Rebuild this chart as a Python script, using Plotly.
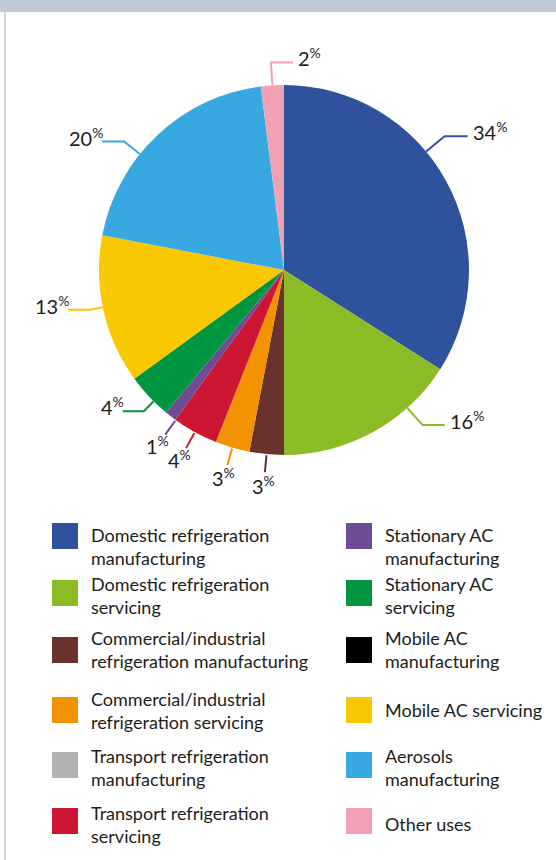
import math
import textwrap
import plotly.graph_objects as go

# ---- data -------------------------------------------------------------
CATEGORIES = [
    "Domestic refrigeration manufacturing",
    "Domestic refrigeration servicing",
    "Commercial/industrial refrigeration manufacturing",
    "Commercial/industrial refrigeration servicing",
    "Transport refrigeration manufacturing",
    "Transport refrigeration servicing",
    "Stationary AC manufacturing",
    "Stationary AC servicing",
    "Mobile AC manufacturing",
    "Mobile AC servicing",
    "Aerosols manufacturing",
    "Other uses",
]
SHARES = [34, 16, 3, 3, 0, 4, 1, 4, 0, 13, 20, 2]
COLORS = [
    "#2F529C", "#8BBC25", "#6A322D", "#F29200", "#B2B2B2", "#CD1633",
    "#6E4B95", "#00963F", "#000000", "#F9C800", "#37A8E0", "#F1A1B6",
]

# ---- page geometry ----------------------------------------------------
W, H = 556, 860
CX, CY, R = 284, 270, 185          # pie centre and radius, px
FONT = "Lato"
INK = "#1d1d1b"


def px(x):
    return x / W


def py(y):
    return 1 - y / H


def polar(angle_deg, r):
    a = math.radians(angle_deg)
    return CX + r * math.sin(a), CY - r * math.cos(a)


# label leader styling per slice: angle shift from slice middle, leg, run, side
LEADERS = {
    0: dict(kind="elbow", shift=-11, leg=24, run=23, side=1),
    1: dict(kind="elbow", shift=-13, leg=23, run=22, side=1),
    2: dict(kind="radial"),
    3: dict(kind="radial"),
    5: dict(kind="radial"),
    6: dict(kind="radial", shift=-2),
    7: dict(kind="elbow", shift=-2, leg=14, run=21, side=-1),
    9: dict(kind="elbow", shift=1, leg=13, run=22, side=-1),
    10: dict(kind="elbow", shift=-8, leg=20, run=22, side=-1),
    11: dict(kind="elbow", shift=0, leg=23, run=22, side=1),
}
LABEL_GAP = {1: 3, -1: -3}        # text offset from the end of an elbow run
PCT_FONT = dict(family=FONT, size=20, color=INK)

fig = go.Figure()
fig.add_trace(go.Pie(
    labels=CATEGORIES,
    values=SHARES,
    marker=dict(colors=COLORS, line=dict(width=0)),
    sort=False,
    direction="clockwise",
    rotation=0,
    textinfo="none",
    hoverinfo="label+percent",
    showlegend=False,
    domain=dict(x=[px(CX - R), px(CX + R)], y=[py(CY + R), py(CY - R)]),
))

shapes = []
annotations = []

# top banner strip and left frame rule
shapes.append(dict(type="rect", xref="paper", yref="paper", x0=0, x1=1,
                   y0=py(12), y1=1, fillcolor="#C0CBD1", line=dict(width=0),
                   layer="below"))
shapes.append(dict(type="line", xref="paper", yref="paper", x0=px(5), x1=px(5),
                   y0=0, y1=py(12), line=dict(color="#CCD6DD", width=2)))

# percentage labels with leader lines
total = sum(SHARES)
cum = 0
for i, v in enumerate(SHARES):
    start = cum / total * 360
    cum += v
    if v == 0 or i not in LEADERS:
        continue
    mid = start + v / total * 180
    cfg = LEADERS[i]
    text = f"{v}<sup>%</sup>"
    if cfg["kind"] == "radial":
        ang = mid + cfg.get("shift", 0)
        x0, y0 = polar(ang, R + 1)
        x1, y1 = polar(ang, R + 18)
        shapes.append(dict(type="line", xref="paper", yref="paper",
                           x0=px(x0), y0=py(y0), x1=px(x1), y1=py(y1),
                           line=dict(color=COLORS[i], width=2)))
        lx, ly = polar(ang, R + 31)
        annotations.append(dict(x=px(lx), y=py(ly), xref="paper", yref="paper",
                                text=text, showarrow=False, xanchor="center",
                                yanchor="middle", font=PCT_FONT))
    else:
        side = cfg["side"]
        ang = mid + cfg["shift"]
        x0, y0 = polar(ang, R)
        x1, y1 = polar(ang, R + cfg["leg"])
        x2 = x1 + side * cfg["run"]
        path = f"M {px(x0)} {py(y0)} L {px(x1)} {py(y1)} L {px(x2)} {py(y1)}"
        shapes.append(dict(type="path", xref="paper", yref="paper", path=path,
                           line=dict(color=COLORS[i], width=2)))
        annotations.append(dict(x=px(x2 + side * LABEL_GAP[side]), y=py(y1 - 5),
                                xref="paper", yref="paper", text=text,
                                showarrow=False,
                                xanchor="left" if side > 0 else "right",
                                yanchor="middle", font=PCT_FONT))

# two-column key with square swatches
COL_X = [52, 346]              # swatch left edges, px
COL_WRAP = [27, 19]            # characters per line in each column
ROW_TOP = [523, 580, 637, 697, 752, 808]
ROW_TEXT_DY = [10, 2, -1, 0, 2, 3]
SW = 26
per_col = len(ROW_TOP)
for i, name in enumerate(CATEGORIES):
    col, row = divmod(i, per_col)
    x0 = COL_X[col]
    y0 = ROW_TOP[row]
    shapes.append(dict(type="rect", xref="paper", yref="paper",
                       x0=px(x0), x1=px(x0 + SW), y0=py(y0 + SW), y1=py(y0),
                       fillcolor=COLORS[i], line=dict(width=0)))
    lines = textwrap.wrap(name, COL_WRAP[col])
    annotations.append(dict(x=px(x0 + SW + 11), y=py(y0 + SW / 2 + ROW_TEXT_DY[row]),
                            xref="paper", yref="paper",
                            text="<br>".join(lines), showarrow=False,
                            xanchor="left", yanchor="middle", align="left",
                            font=dict(family=FONT, size=18, color=INK)))

fig.update_layout(
    width=W, height=H,
    margin=dict(l=0, r=0, t=0, b=0),
    paper_bgcolor="white",
    plot_bgcolor="white",
    shapes=shapes,
    annotations=annotations,
)

fig.write_html("out.html")
